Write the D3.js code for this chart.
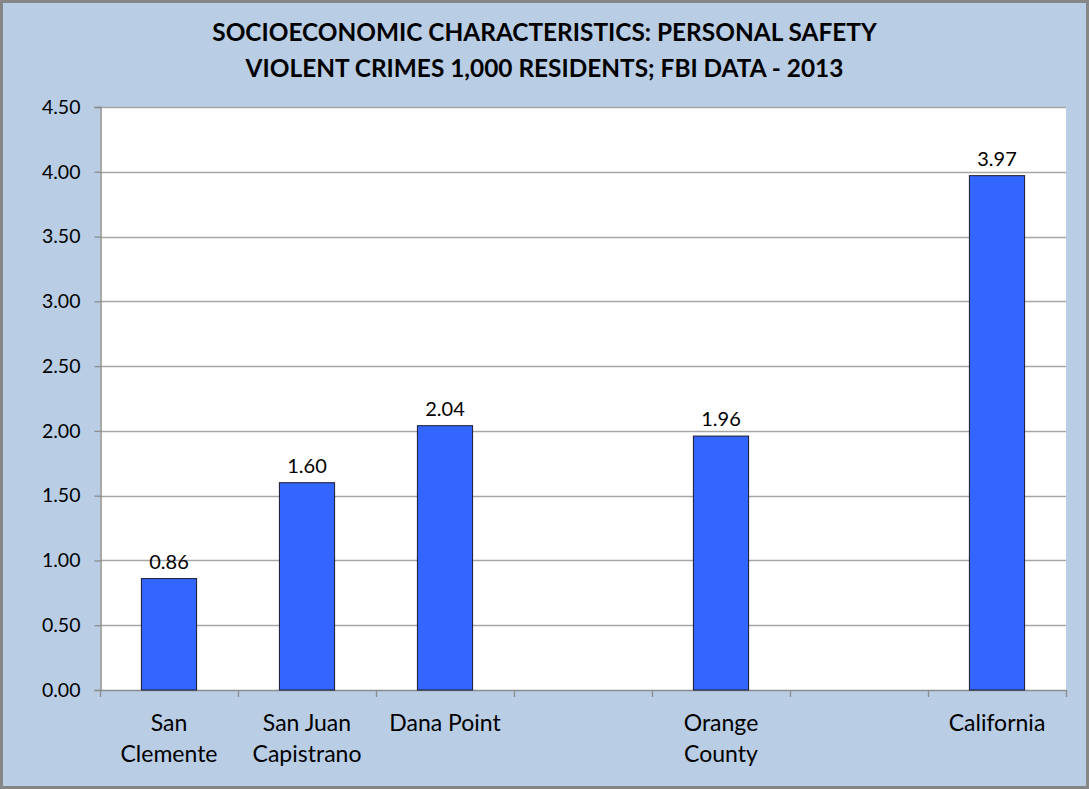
<!DOCTYPE html>
<html><head><meta charset="utf-8">
<script src="https://cdn.jsdelivr.net/npm/d3@7"></script>
<style>body{margin:0;background:#fff}svg{display:block}text{font-family:Lato,"Open Sans",sans-serif;fill:#000}</style>
</head><body><svg id="c" width="1089" height="789"></svg>
<script>
const categories = ["San Clemente","San Juan Capistrano","Dana Point","","Orange County","","California"];
const categoryLines = [["San","Clemente"],["San Juan","Capistrano"],["Dana Point"],[],["Orange","County"],[],["California"]];
const values = [0.86,1.60,2.04,null,1.96,null,3.97];
const yTicks = [0,0.5,1,1.5,2,2.5,3,3.5,4,4.5];
const titleLines = ["SOCIOECONOMIC CHARACTERISTICS: PERSONAL SAFETY","VIOLENT CRIMES 1,000 RESIDENTS; FBI DATA - 2013"];

const svg = d3.select("#c");
const W=1089,H=789;
svg.append("rect").attr("x",1.5).attr("y",1.5).attr("width",W-3).attr("height",H-3)
  .attr("fill","#B9CDE5").attr("stroke","#868686").attr("stroke-width",3);
const L=100,R=1066,T=107,B=690;
const x = d3.scaleBand().domain(d3.range(categories.length)).range([L,R]).paddingInner(0).paddingOuter(0);
const y = d3.scaleLinear().domain([0,4.5]).range([B,T]);
svg.append("rect").attr("x",L).attr("y",T).attr("width",R-L).attr("height",B-T).attr("fill","#fff");
// gridlines
svg.append("g").selectAll("line").data(yTicks.filter(d=>d>0)).join("line")
  .attr("x1",L).attr("x2",R).attr("y1",d=>Math.round(y(d))+0.5).attr("y2",d=>Math.round(y(d))+0.5)
  .attr("stroke","#A6A6A6").attr("stroke-width",1.3);
// y axis
const ya = svg.append("g").attr("transform",`translate(${L+0.5},0)`)
  .call(d3.axisLeft(y).tickValues(yTicks).tickFormat(d3.format(".2f")).tickSize(6).tickPadding(14));
ya.select(".domain").attr("stroke","#8C8C8C").attr("stroke-width",1.5);
ya.selectAll(".tick line").attr("stroke","#8C8C8C").attr("stroke-width",1.3);
ya.selectAll(".tick text").attr("font-size",19.5).attr("font-family","Lato,sans-serif").attr("fill","#000");
// x axis line and ticks
svg.append("line").attr("x1",L).attr("x2",R).attr("y1",B+0.5).attr("y2",B+0.5).attr("stroke","#8C8C8C").attr("stroke-width",1.5);
const bounds = d3.range(categories.length+1).map(i=> i<categories.length ? x(i) : x(categories.length-1)+x.bandwidth());
svg.append("g").selectAll("line").data(bounds).join("line")
  .attr("x1",d=>Math.round(d)+0.5).attr("x2",d=>Math.round(d)+0.5).attr("y1",B).attr("y2",B+7)
  .attr("stroke","#8C8C8C").attr("stroke-width",1.3);
// bars
const bw = x.bandwidth()*0.4;
const data = values.map((v,i)=>({i,v})).filter(d=>d.v!=null);
svg.append("g").selectAll("rect").data(data).join("rect")
  .attr("x",d=>x(d.i)+(x.bandwidth()-bw)/2).attr("width",bw)
  .attr("y",d=>y(d.v)).attr("height",d=>y(0)-y(d.v))
  .attr("fill","#3366FF").attr("stroke","#1a1a2e").attr("stroke-width",1);
svg.append("g").selectAll("text").data(data).join("text")
  .attr("x",d=>x(d.i)+x.bandwidth()/2).attr("y",d=>y(d.v)-10)
  .attr("text-anchor","middle").attr("font-size",20).text(d=>d.v.toFixed(2));
// category labels
const cl = svg.append("g").selectAll("text").data(categoryLines.map((l,i)=>({l,i}))).join("text")
  .attr("x",d=>x(d.i)+x.bandwidth()/2).attr("y",731).attr("text-anchor","middle").attr("font-size",23);
cl.selectAll("tspan").data(d=>d.l.map(s=>({s,cx:x(d.i)+x.bandwidth()/2}))).join("tspan")
  .attr("x",d=>d.cx).attr("dy",(d,k)=>k===0?0:31).text(d=>d.s);
// title
svg.append("g").selectAll("text").data(titleLines).join("text")
  .attr("x",544.5).attr("y",(d,i)=>41+i*36).attr("text-anchor","middle")
  .attr("font-size",24.4).attr("font-weight","bold").text(d=>d);
</script></body></html>
